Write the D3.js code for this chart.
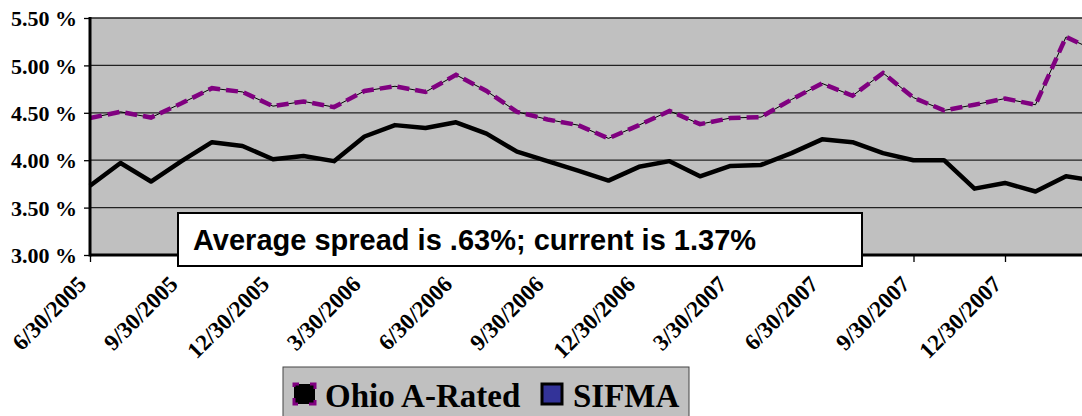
<!DOCTYPE html>
<html>
<head>
<meta charset="utf-8">
<script src="https://cdn.jsdelivr.net/npm/d3@7"></script>
<style>
body { margin: 0; background: #fff; }
</style>
</head>
<body>
<div id="chart"></div>
<script>
var dates = ['6/30/2005','7/30/2005','8/30/2005','9/30/2005','10/30/2005','11/30/2005',
    '12/30/2005','1/30/2006','2/28/2006','3/30/2006','4/30/2006','5/30/2006',
    '6/30/2006','7/30/2006','8/30/2006','9/30/2006','10/30/2006','11/30/2006',
    '12/30/2006','1/30/2007','2/28/2007','3/30/2007','4/30/2007','5/30/2007',
    '6/30/2007','7/30/2007','8/30/2007','9/30/2007','10/30/2007','11/30/2007',
    '12/30/2007','1/30/2008','2/28/2008','3/30/2008'];
var labelDates = ['6/30/2005','9/30/2005','12/30/2005','3/30/2006','6/30/2006','9/30/2006',
    '12/30/2006','3/30/2007','6/30/2007','9/30/2007','12/30/2007'];
var ohio = [4.445, 4.51, 4.45, 4.60, 4.76, 4.72, 4.57, 4.62, 4.56, 4.73, 4.78, 4.72,
    4.90, 4.73, 4.51, 4.43, 4.37, 4.23, 4.37, 4.52, 4.38, 4.445, 4.455, 4.64,
    4.81, 4.68, 4.92, 4.66, 4.525, 4.585, 4.65, 4.585, 5.30, 5.15];
var sifma = [3.73, 3.97, 3.775, 3.99, 4.19, 4.15, 4.01, 4.045, 3.99, 4.25, 4.37, 4.34,
    4.40, 4.28, 4.09, 3.99, 3.89, 3.785, 3.93, 3.99, 3.83, 3.94, 3.95, 4.075,
    4.22, 4.19, 4.075, 4.00, 4.00, 3.70, 3.76, 3.67, 3.83, 3.78];
var yTicks = [3.0, 3.5, 4.0, 4.5, 5.0, 5.5];
var note = 'Average spread is .63%; current is 1.37%';
var seriesNames = ['Ohio A-Rated', 'SIFMA'];

(function(){
    var W = 1082, H = 416;
    var left = 90, top = 18, bottom = 255, step = 30.5;

    var svg = d3.select('#chart').append('svg')
        .attr('width', W)
        .attr('height', H);

    var x = d3.scalePoint()
        .domain(dates)
        .range([left, left + step * (dates.length - 1)]);
    var y = d3.scaleLinear()
        .domain([3, 5.5])
        .range([bottom, top]);

    // plot area
    svg.append('rect')
        .attr('x', left).attr('y', top)
        .attr('width', W - left + 20).attr('height', bottom - top)
        .attr('fill', '#c0c0c0');

    svg.selectAll('line.grid').data(yTicks.slice(1)).enter().append('line')
        .attr('class', 'grid')
        .attr('x1', left).attr('x2', W)
        .attr('y1', function(d){return y(d)})
        .attr('y2', function(d){return y(d)})
        .attr('stroke', '#222')
        .attr('stroke-width', 1.3);

    // y axis
    var yAxis = svg.append('g')
        .attr('transform', 'translate(' + left + ',0)')
        .call(d3.axisLeft(y).tickValues(yTicks).tickSize(6).tickFormat(function(d){return d.toFixed(2) + ' %'}));
    yAxis.select('.domain').remove();
    yAxis.selectAll('.tick line').attr('stroke', '#000').attr('stroke-width', 1.3);
    yAxis.selectAll('.tick text')
        .attr('x', -13)
        .attr('dy', '0.35em')
        .attr('fill', '#000')
        .style('font-family', '"Liberation Serif", "Times New Roman", serif')
        .style('font-weight', 'bold')
        .style('font-size', '22px');

    // x axis
    var xAxis = svg.append('g')
        .attr('transform', 'translate(0,' + bottom + ')')
        .call(d3.axisBottom(x).tickValues(labelDates).tickSize(7).tickFormat(''));
    xAxis.select('.domain').remove();
    xAxis.selectAll('.tick line').attr('stroke', '#000').attr('stroke-width', 1.3);

    svg.selectAll('text.xlab').data(labelDates).enter().append('text')
        .attr('class', 'xlab')
        .attr('transform', function(d){return 'translate(' + (x(d) - 8) + ',' + (bottom + 25) + ') rotate(-45)'})
        .attr('dy', '0.35em')
        .attr('text-anchor', 'end')
        .style('font-family', '"Liberation Serif", "Times New Roman", serif')
        .style('font-weight', 'bold')
        .style('font-size', '23px')
        .text(function(d){return d});

    // lines
    var line = d3.line()
        .x(function(d, i){return x(dates[i])})
        .y(function(d){return y(d)});

    svg.append('path')
        .attr('d', line(sifma))
        .attr('fill', 'none')
        .attr('stroke', '#000')
        .attr('stroke-width', 4.5)
        .attr('stroke-linejoin', 'round');

    svg.append('path')
        .attr('d', line(ohio))
        .attr('fill', 'none')
        .attr('stroke', '#000')
        .attr('stroke-width', 1);
    svg.append('path')
        .attr('d', line(ohio))
        .attr('fill', 'none')
        .attr('stroke', '#800080')
        .attr('stroke-width', 4.5)
        .attr('stroke-dasharray', '12,6');

    // axis lines
    svg.append('line')
        .attr('x1', left).attr('x2', left)
        .attr('y1', top - 1).attr('y2', bottom + 1.5)
        .attr('stroke', '#000').attr('stroke-width', 3);
    svg.append('line')
        .attr('x1', left).attr('x2', W)
        .attr('y1', bottom).attr('y2', bottom)
        .attr('stroke', '#000').attr('stroke-width', 3);

    // annotation box
    svg.append('rect')
        .attr('x', 178).attr('y', 213)
        .attr('width', 684).attr('height', 53)
        .attr('fill', '#fff')
        .attr('stroke', '#000')
        .attr('stroke-width', 2);
    svg.append('text')
        .attr('x', 193).attr('y', 250)
        .style('font-family', '"Liberation Sans", Arial, sans-serif')
        .style('font-weight', 'bold')
        .style('font-size', '29px')
        .text(note);

    // legend
    var legend = svg.append('g');
    legend.append('rect')
        .attr('x', 283).attr('y', 367)
        .attr('width', 406).attr('height', 60)
        .attr('fill', '#c0c0c0')
        .attr('stroke', '#444')
        .attr('stroke-width', 1);
    legend.append('rect')
        .attr('x', 294).attr('y', 384)
        .attr('width', 21).attr('height', 20)
        .attr('fill', '#000')
        .attr('stroke', '#800080')
        .attr('stroke-width', 3)
        .attr('stroke-dasharray', '10,11')
        .attr('stroke-dashoffset', 5);
    legend.append('rect')
        .attr('x', 542).attr('y', 384)
        .attr('width', 20).attr('height', 20)
        .attr('fill', '#333399')
        .attr('stroke', '#000')
        .attr('stroke-width', 3);
    legend.selectAll('text').data(seriesNames).enter().append('text')
        .attr('x', function(d, i){return i === 0 ? 325 : 573})
        .attr('y', 407)
        .style('font-family', '"Liberation Serif", "Times New Roman", serif')
        .style('font-weight', 'bold')
        .style('font-size', '33px')
        .text(function(d){return d});
})();
</script>
</body>
</html>
